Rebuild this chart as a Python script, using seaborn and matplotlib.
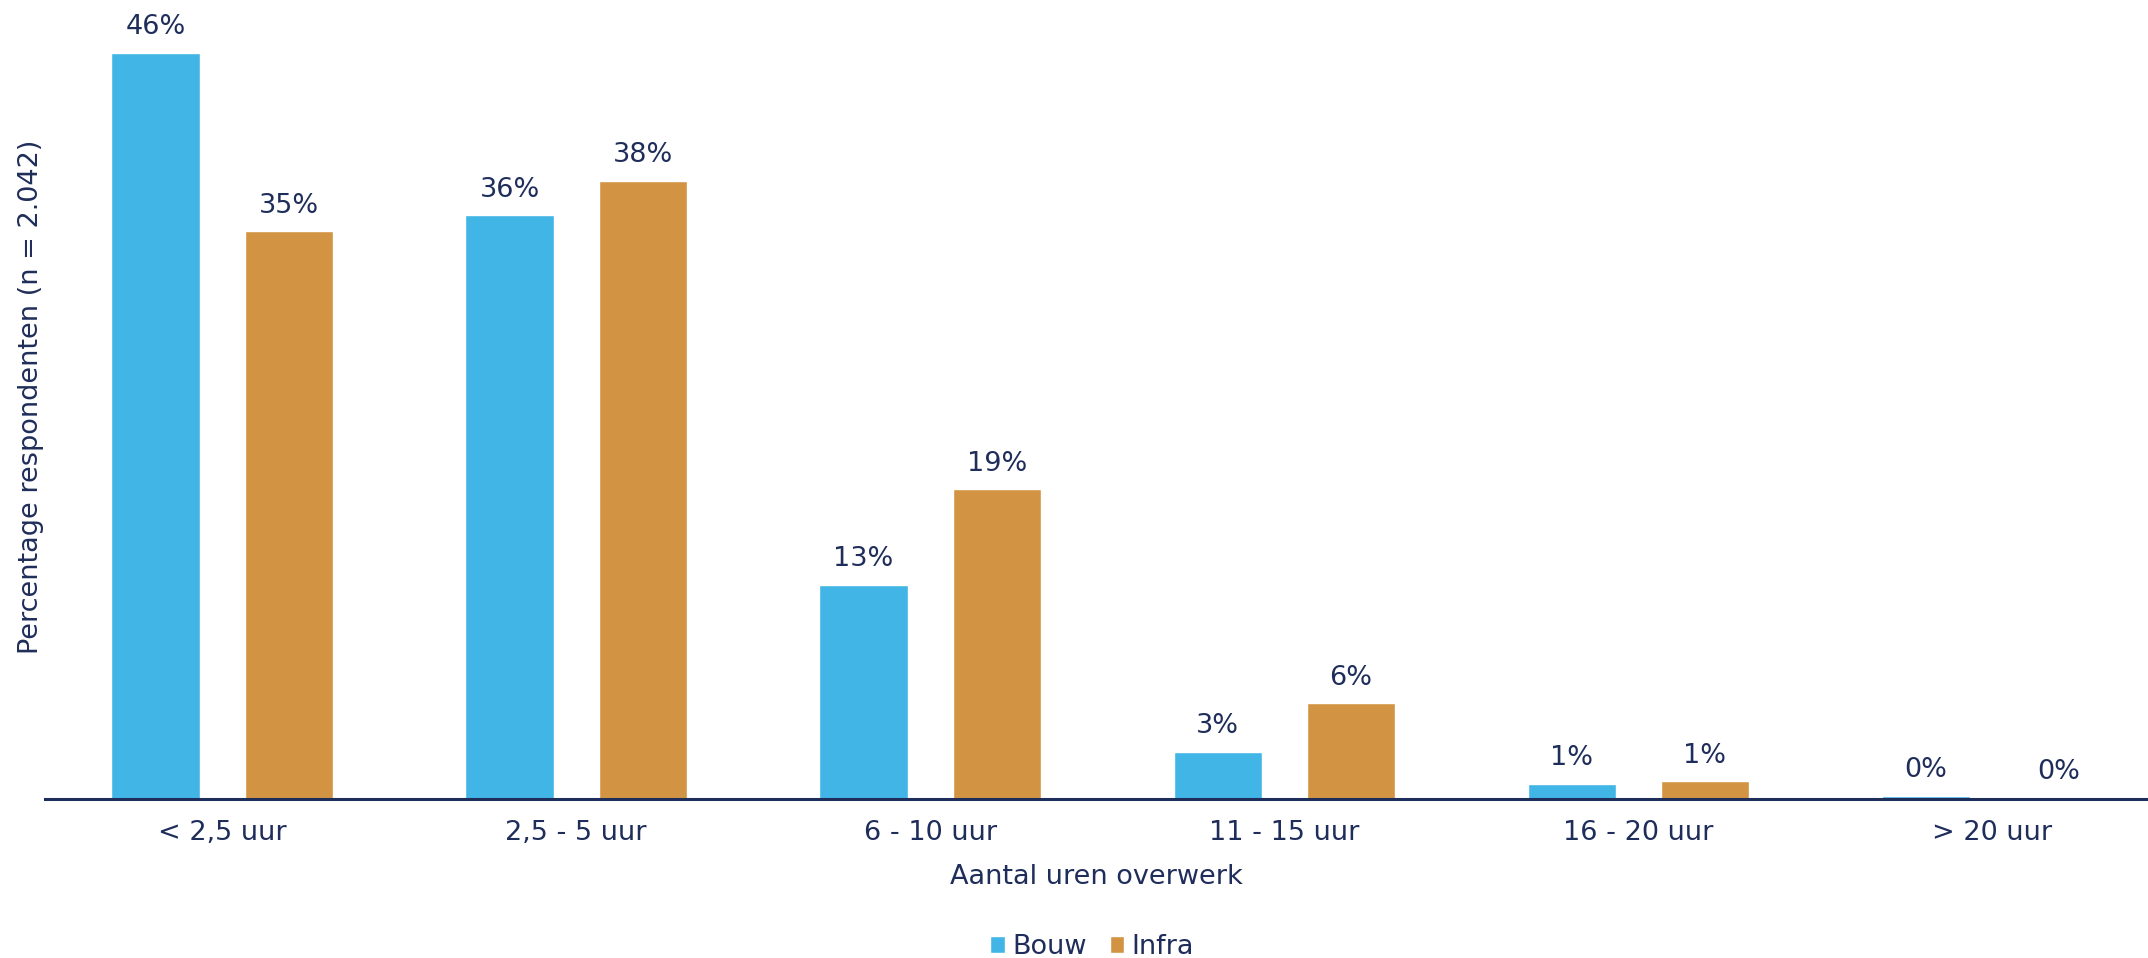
### Overwerk per sector - bar chart
import numpy as np
import pandas as pd
import matplotlib
matplotlib.use("Agg")
import matplotlib.pyplot as plt
import seaborn as sns
from matplotlib.patches import Patch

## Data
categories = ["< 2,5 uur", "2,5 - 5 uur", "6 - 10 uur", "11 - 15 uur", "16 - 20 uur", "> 20 uur"]
bouw = [46.0, 36.0, 13.2, 2.9, 0.95, 0.2]
infra = [35.0, 38.1, 19.1, 5.9, 1.1, 0.1]
series = ["Bouw", "Infra"]

NAVY = "#1F2D5A"
palette = {"Bouw": "#41B5E6", "Infra": "#D29443"}
FS = 19.5

df = pd.DataFrame({
    "categorie": categories * 2,
    "sector": [series[0]] * len(categories) + [series[1]] * len(categories),
    "waarde": bouw + infra,
})

sns.set_style("white")
plt.rcParams["font.family"] = ["DejaVu Sans"]

W, H = 2148, 958
fig = plt.figure(figsize=(W / 100, H / 100), dpi=100)
ax = fig.add_axes([45 / W, 159 / H, 1 - 45 / W, 778.6 / H])

sns.barplot(data=df, x="categorie", y="waarde", hue="sector", order=categories,
            hue_order=series, palette=palette, width=0.752, gap=0.338,
            saturation=1, legend=False, ax=ax)

# labels boven de balken
for container in ax.containers:
    ax.bar_label(container, labels=[f"{v:.0f}%" for v in container.datavalues],
                 padding=9, fontsize=FS, color=NAVY)

ax.set_xlim(-0.5, 5.44)
ax.set_ylim(0, 48)
ax.set_yticks([])
for s in ["top", "right", "left"]:
    ax.spines[s].set_visible(False)
ax.spines["bottom"].set_color(NAVY)
ax.spines["bottom"].set_linewidth(2.2)

ax.tick_params(axis="x", length=0, pad=15, labelsize=FS, labelcolor=NAVY)
ax.set_xlabel("Aantal uren overwerk", fontsize=FS, color=NAVY, labelpad=13)
ax.set_ylabel("Percentage respondenten (n = 2.042)", fontsize=FS, color=NAVY)
ax.yaxis.set_label_coords(-0.0005, 0.516)

handles = [Patch(facecolor=palette[s], label=s) for s in series]
fig.legend(handles=handles, loc="center", bbox_to_anchor=(1092 / W, 1 - 947 / H), ncol=2,
           frameon=False, fontsize=FS, handlelength=0.55, handleheight=0.55,
           handletextpad=0.25, columnspacing=0.85, labelcolor=NAVY)

fig.savefig("out.png", dpi=100)
